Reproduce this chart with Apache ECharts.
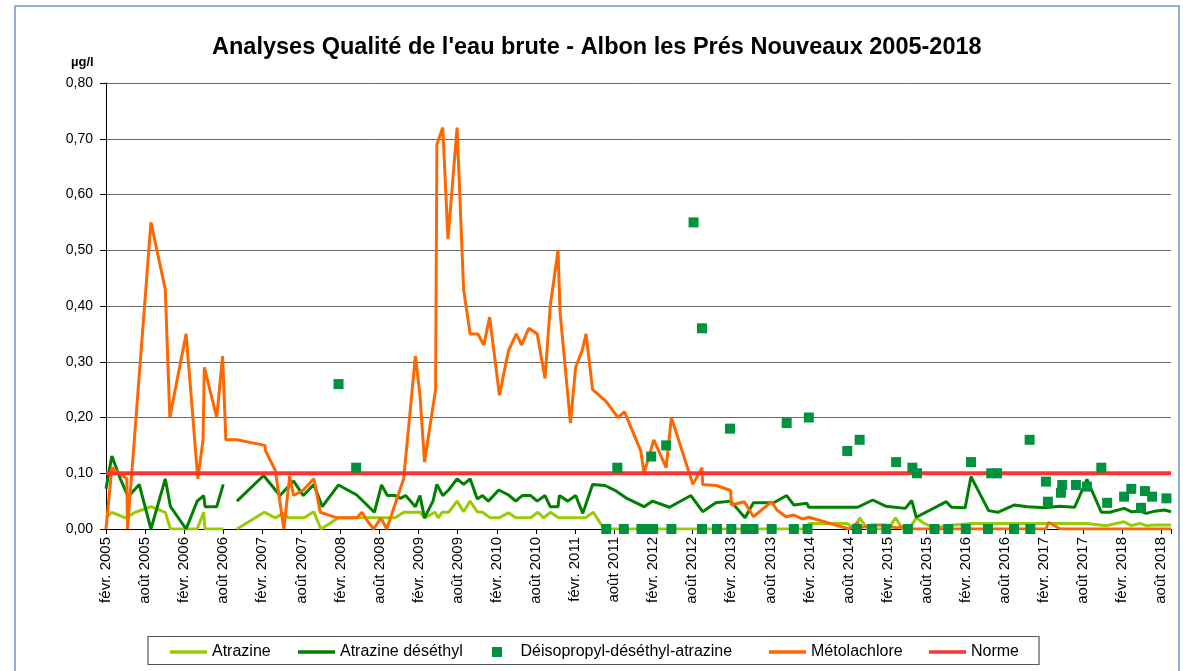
<!DOCTYPE html>
<html>
<head>
<meta charset="utf-8">
<script src="https://cdn.jsdelivr.net/npm/echarts@6/dist/echarts.min.js"></script>
<style>
html,body{margin:0;padding:0;background:#fff;}
#chart{width:1183px;height:671px;}
</style>
</head>
<body>
<div id="chart"></div>
<script>
// x values: months elapsed since 1 Feb 2005
const atrazineMonths = [0, 0.9, 3.0, 4.5, 6.9, 9.1, 9.9, 14.0, 15.0, 15.2, 18.0, 19.0, 20.1, 24.3, 26.0, 27.2, 28.0, 30.4, 31.9, 33.0, 35.7, 40.1, 44.4, 45.7, 48.2, 48.9, 50.5, 51.0, 51.6, 52.6, 53.9, 54.9, 55.9, 57.0, 57.8, 59.0, 60.3, 61.8, 62.9, 65.2, 66.3, 67.2, 68.2, 69.5, 73.6, 74.8, 76.2, 77.3, 107.7, 107.9, 113.8, 114.9, 115.7, 116.9, 120.1, 121.2, 122.3, 123.3, 124.4, 125.6, 127.2, 129.0, 132.8, 144.6, 150.6, 153.6, 156.3, 157.4, 158.7, 159.7, 161.0, 163.5];
const atrazineValues = [0.02, 0.03, 0.02, 0.03, 0.04, 0.03, 0.00, 0.00, 0.03, 0.00, 0.00, null, 0.00, 0.03, 0.02, 0.028, 0.02, 0.02, 0.031, 0.00, 0.02, 0.02, 0.02, 0.03, 0.03, 0.02, 0.03, 0.02, 0.03, 0.03, 0.05, 0.031, 0.05, 0.031, 0.03, 0.02, 0.02, 0.029, 0.02, 0.02, 0.03, 0.02, 0.03, 0.02, 0.02, 0.03, 0.005, 0.00, 0.00, 0.01, 0.01, 0.00, 0.02, 0.00, 0.00, 0.02, 0.00, 0.00, 0.02, 0.01, 0.002, 0.006, 0.01, 0.01, 0.01, 0.006, 0.013, 0.006, 0.01, 0.006, 0.007, 0.007];

const deséthylMonths = [0, 0.9, 2.2, 3.4, 5.1, 6.9, 9.1, 9.9, 12.3, 14.0, 15.0, 15.2, 17.0, 18.0, 19.0, 20.1, 24.2, 26.7, 28.8, 30.3, 31.9, 33.2, 35.7, 38.5, 41.2, 42.3, 43.2, 44.4, 45.2, 46.0, 47.5, 48.2, 48.9, 50.2, 50.8, 51.7, 52.6, 53.9, 54.9, 55.9, 57.0, 57.8, 58.7, 60.3, 61.8, 62.9, 63.9, 65.2, 66.2, 67.4, 68.2, 69.4, 69.6, 70.9, 72.1, 73.2, 74.7, 76.6, 78.2, 79.8, 82.6, 83.9, 86.5, 89.8, 91.6, 93.6, 95.9, 98.1, 99.4, 102.5, 104.5, 105.6, 107.6, 107.9, 115.4, 117.7, 119.7, 122.7, 123.7, 124.4, 129.0, 129.8, 131.9, 132.8, 135.5, 136.9, 139.4, 141.5, 144.1, 146.4, 148.7, 150.6, 152.8, 154.1, 156.3, 157.4, 158.7, 159.7, 161.0, 162.5, 163.5];
const deséthylValues = [0.072, 0.131, 0.09, 0.058, 0.08, 0.00, 0.09, 0.04, 0.00, 0.05, 0.06, 0.04, 0.04, 0.08, null, 0.05, 0.096, 0.06, 0.086, 0.06, 0.08, 0.04, 0.079, 0.061, 0.03, 0.079, 0.06, 0.06, 0.055, 0.06, 0.04, 0.06, 0.02, 0.05, 0.08, 0.06, 0.07, 0.09, 0.08, 0.09, 0.054, 0.06, 0.05, 0.07, 0.061, 0.05, 0.06, 0.06, 0.05, 0.06, 0.04, 0.04, 0.06, 0.05, 0.06, 0.028, 0.08, 0.078, 0.069, 0.056, 0.04, 0.05, 0.039, 0.06, 0.031, 0.047, 0.05, 0.02, 0.047, 0.047, 0.06, 0.043, 0.046, 0.039, 0.039, 0.052, 0.041, 0.037, 0.051, 0.021, 0.049, 0.039, 0.038, 0.094, 0.033, 0.03, 0.043, 0.04, 0.038, 0.041, 0.039, 0.089, 0.03, 0.03, 0.037, 0.031, 0.032, 0.028, 0.032, 0.034, 0.031];

const deisoMonths = [35.7, 38.4, 76.8, 78.5, 79.5, 82.2, 83.2, 83.7, 84.0, 86.0, 86.8, 90.2, 91.5, 91.5, 93.8, 95.8, 96.0, 98.2, 99.4, 102.2, 104.5, 105.6, 107.7, 107.9, 113.8, 115.3, 115.7, 117.6, 119.8, 121.3, 123.1, 123.8, 124.5, 127.2, 129.3, 132.0, 132.8, 135.4, 135.9, 136.8, 139.4, 141.8, 141.9, 144.3, 144.6, 146.6, 146.8, 148.9, 150.6, 152.8, 153.7, 156.3, 157.4, 158.9, 159.5, 160.6, 162.8];
const deisoValues = [0.26, 0.11, 0, 0.11, 0, 0, 0, 0.13, 0, 0.15, 0, 0.55, 0.36, 0, 0, 0.18, 0, 0, 0, 0, 0.19, 0, 0, 0.20, 0.14, 0, 0.16, 0, 0, 0.12, 0, 0.11, 0.10, 0, 0, 0, 0.12, 0, 0.10, 0.10, 0, 0.16, 0, 0.085, 0.049, 0.065, 0.079, 0.079, 0.076, 0.11, 0.047, 0.058, 0.072, 0.038, 0.068, 0.058, 0.055];

const metoMonths = [0, 0.9, 3.2, 3.3, 6.9, 9.1, 9.8, 12.3, 14.1, 14.9, 15.1, 17.0, 17.9, 18.4, 20.1, 24.4, 24.5, 26.0, 27.3, 28.2, 28.8, 30.3, 31.9, 32.9, 35.5, 38.5, 39.3, 40.1, 41.1, 42.2, 43.1, 45.7, 47.5, 48.2, 48.9, 50.6, 50.8, 51.7, 52.5, 53.9, 54.9, 55.9, 57.1, 58.0, 58.9, 60.4, 61.8, 63.0, 63.8, 64.9, 66.2, 67.4, 68.2, 69.4, 69.7, 71.3, 72.1, 73.1, 73.7, 74.7, 76.7, 78.6, 79.6, 82.1, 82.6, 84.1, 86.0, 86.8, 90.1, 91.5, 91.6, 93.7, 95.9, 96.0, 98.0, 99.4, 102.2, 103.0, 104.4, 105.6, 106.9, 107.9, 114.1, 115.4, 115.7, 117.5, 119.7, 121.3, 123.3, 123.8, 144.3, 144.7, 146.5, 163.5];
const metoValues = [0.00, 0.11, 0.09, 0.00, 0.55, 0.43, 0.20, 0.35, 0.09, 0.16, 0.29, 0.20, 0.31, 0.16, 0.16, 0.15, 0.14, 0.105, 0.00, 0.095, 0.06, 0.07, 0.09, 0.03, 0.02, 0.02, 0.03, 0.015, 0.00, 0.02, 0.00, 0.09, 0.31, 0.24, 0.12, 0.25, 0.69, 0.72, 0.52, 0.72, 0.43, 0.35, 0.35, 0.33, 0.38, 0.24, 0.32, 0.35, 0.33, 0.36, 0.35, 0.27, 0.40, 0.50, 0.39, 0.19, 0.29, 0.32, 0.35, 0.25, 0.23, 0.20, 0.21, 0.14, 0.10, 0.16, 0.11, 0.20, 0.08, 0.11, 0.08, 0.078, 0.069, 0.043, 0.049, 0.022, 0.049, 0.034, 0.022, 0.025, 0.018, 0.021, 0.00, 0.012, 0.002, 0.007, 0.007, 0.002, 0.006, 0.00, 0.00, 0.012, 0.00, 0.00];

const normeMonths = [0, 163.5];
const normeValues = [0.1, 0.1];

const seriesNames = ['Atrazine', 'Atrazine déséthyl', 'Déisopropyl-déséthyl-atrazine', 'Métolachlore', 'Norme'];
const monthNames = ['févr.', 'août'];
const startYear = 2005;
const titleText = "Analyses Qualité de l'eau brute - Albon les Prés Nouveaux 2005-2018";
const unitText = 'µg/l';

const FONT = '"Liberation Sans", Arial, sans-serif';
function pairs(xs, ys) { return xs.map((x, i) => [x, ys[i] === null ? '-' : ys[i]]); }

const chart = echarts.init(document.getElementById('chart'), null, {renderer: 'canvas'});
const BAR = 'path://M0,0H40V4H0Z';
const SQUARE = 'path://M0,0H10V10H0Z';
function legendFor(left, name, isSquare) {
  return {top: 644, left: left, itemWidth: 37, itemHeight: isSquare ? 10 : 3.5, padding: 0, itemGap: 0,
    selectedMode: false, symbolKeepAspect: !!isSquare,
    textStyle: {fontSize: 16, color: '#000', fontFamily: FONT},
    data: [{name: name, icon: isSquare ? SQUARE : BAR}]};
}

chart.setOption({
  animation: false,
  backgroundColor: '#fff',
  textStyle: {fontFamily: FONT},
  title: {text: titleText, left: 207, top: 31,
    textStyle: {fontSize: 23.5, fontWeight: 'bold', color: '#000', fontFamily: FONT}},
  graphic: [
    {type: 'rect', shape: {x: 15, y: 6, width: 1164, height: 720}, style: {fill: 'none', stroke: '#7394C8', lineWidth: 1.5}, silent: true},
    {type: 'rect', shape: {x: 148, y: 636.5, width: 891, height: 28}, style: {fill: 'none', stroke: '#555', lineWidth: 1.2}, silent: true},
    {type: 'text', left: 71, top: 56, style: {text: unitText, font: 'bold 13px ' + FONT, fill: '#000'}}
  ],
  legend: [
    legendFor(170, seriesNames[0], false),
    legendFor(298, seriesNames[1], false),
    legendFor(492, seriesNames[2], true),
    legendFor(769, seriesNames[3], false),
    legendFor(929, seriesNames[4], false)
  ],
  grid: {left: 106, right: 12, top: 83, bottom: 142, containLabel: false},
  xAxis: {
    type: 'value', min: 0, max: 163.5, interval: 6,
    axisLine: {show: true, onZero: false, lineStyle: {color: '#000', width: 1}},
    axisTick: {show: true, length: 5, lineStyle: {color: '#000'}},
    splitLine: {show: false},
    axisLabel: {rotate: 90, margin: 8, fontSize: 15, color: '#000', fontFamily: FONT,
      formatter: function (v) {
        if (Math.abs(v % 6) > 1e-6) return '';
        const k = Math.round(v / 6);
        return monthNames[k % 2] + ' ' + (startYear + Math.floor(k / 2));
      }}
  },
  yAxis: {
    type: 'value', min: 0, max: 0.8, interval: 0.1,
    axisLine: {show: true, lineStyle: {color: '#000', width: 1}},
    axisTick: {show: true, length: 6, lineStyle: {color: '#000'}},
    splitLine: {show: true, lineStyle: {color: '#666', width: 1}},
    axisLabel: {margin: 13, fontSize: 14, color: '#000', fontFamily: FONT,
      formatter: function (v) { return v.toFixed(2).replace('.', ','); }}
  },
  series: [
    {name: seriesNames[0], type: 'line', symbol: 'none', showSymbol: false, connectNulls: false, z: 2,
      data: pairs(atrazineMonths, atrazineValues), lineStyle: {color: '#99CC00', width: 3}, itemStyle: {color: '#99CC00'}},
    {name: seriesNames[1], type: 'line', symbol: 'none', showSymbol: false, connectNulls: false, z: 2,
      data: pairs(deséthylMonths, deséthylValues), lineStyle: {color: '#008000', width: 3}, itemStyle: {color: '#008000'}},
    {name: seriesNames[2], type: 'scatter', symbol: 'rect', symbolSize: 10, z: 5,
      data: pairs(deisoMonths, deisoValues), itemStyle: {color: '#00923F', opacity: 1}},
    {name: seriesNames[3], type: 'line', symbol: 'none', showSymbol: false, z: 3,
      data: pairs(metoMonths, metoValues), lineStyle: {color: '#FF6600', width: 3}, itemStyle: {color: '#FF6600'}},
    {name: seriesNames[4], type: 'line', symbol: 'none', showSymbol: false, z: 4,
      data: pairs(normeMonths, normeValues), lineStyle: {color: '#FF3333', width: 4}, itemStyle: {color: '#FF3333'}}
  ]
});
</script>
</body>
</html>
